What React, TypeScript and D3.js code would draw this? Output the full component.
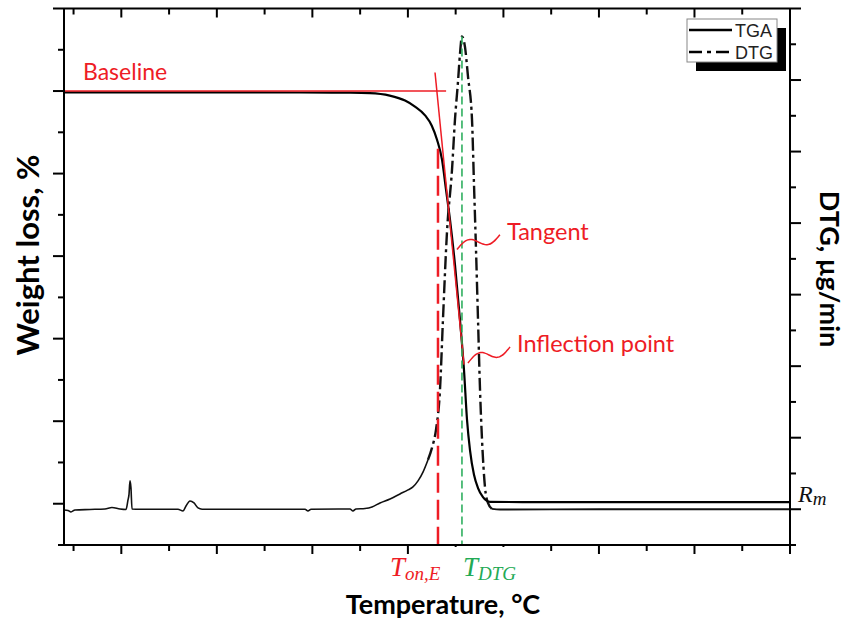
import React from 'react';
import * as d3 from 'd3';

// ---------- data ----------
const tgaTemp = [40, 120, 200, 287, 340, 360, 381, 397, 407, 418, 425, 430.5, 435.7, 439.9, 444.1, 449.3, 454.5, 458.7, 461.9, 465, 469.2, 473.4, 478.6, 486, 520, 600, 700, 800];
const tgaWeight = [99.7, 99.7, 99.7, 99.65, 99.6, 99.5, 98.9, 97.7, 96.3, 94.1, 91.6, 88.2, 83.4, 76.1, 68.8, 57.9, 44.6, 32.5, 20.3, 13.0, 7.0, 3.8, 1.6, 0.45, 0.4, 0.4, 0.4, 0.4];

const dtgTemp = [40, 44.2, 47.3, 51.5, 67.2, 82.9, 90.2, 98.6, 104.9, 107, 108, 109.1, 110.1, 111.2, 119.6, 140.5, 159.3, 164.6, 167.7, 171.9, 176.1, 180.3, 184.5, 234.7, 292.3, 295.4, 298.6, 339.4, 342.5, 345.7, 355.1, 362.4, 370.8, 381.3, 391.7, 400.1, 405.3, 410.6, 415.8, 421, 425.2, 429.4, 433.6, 436.7, 440.9, 446.2, 449.3, 452.4, 454.5, 456.6, 459.8, 462.9, 467.1, 469.2, 471.3, 473.4, 475.5, 477.6, 480.7, 483.8, 488, 496.4, 601, 705.8, 800];
const dtgRate = [-0.1, -0.17, -0.38, -0.1, -0.03, 0.04, 0.25, 0.04, -0.03, 1.3, 2.0, 3.96, 3.0, 0.04, 0, 0, 0, -0.24, 0.46, 1.16, 0.88, 0.18, 0, 0, 0, -0.24, 0, 0.04, -0.24, 0.04, 0.11, 0.32, 0.88, 1.44, 2.14, 2.7, 3.12, 3.96, 5.2, 6.9, 8.58, 11.1, 16.7, 26.5, 38.7, 47.5, 54.5, 59.7, 63.6, 66.1, 64.6, 60.5, 54.5, 45.4, 36.3, 26.5, 16.7, 9.7, 3.1, 0.88, 0.04, -0.04, 0, 0, 0];

const xTicks = d3.range(50, 801, 50);
const leftTicks = d3.range(-10, 121, 10);
const rightTicks = d3.range(-5, 71, 5);

// annotations (data units)
const baselineWeight = 100;
const baselineRange = [40, 440];
const tangentTemp = [428.4, 458.7];
const tangentWeight = [104.5, 33.7];
const onsetTemp = 431.5;
const onsetTopWeight = 86;
const dtgPeakTemp = 456.6;
const dtgPeakRate = 66.1;
const residueWeight = 0.4;
const tangentNote = { from: [451.4, 61.6], to: [496.4, 65.2], text: [503.7, 64.0] };
const inflectNote = { from: [462.9, 34.1], to: [506.9, 38.0], text: [514.2, 36.8] };
const baselineText = [59.9, 102.6];

const RED = '#ee1c25';
const GREEN = '#22aa55';

export default function App() {
  const x = d3.scaleLinear().domain([40, 800]).range([64, 790]);
  const yL = d3.scaleLinear().domain([-10, 120]).range([545, 8.5]);
  const yR = d3.scaleLinear().domain([-5, 70]).range([545, 8.5]);

  const tgaData = tgaTemp.map((t, i) => [t, tgaWeight[i]] as [number, number]);
  const dtgData = dtgTemp.map((t, i) => [t, dtgRate[i]] as [number, number]);

  const tgaLine = d3.line<[number, number]>().x(d => x(d[0])).y(d => yL(d[1])).curve(d3.curveMonotoneX);
  const dtgLine = d3.line<[number, number]>().x(d => x(d[0])).y(d => yR(d[1])).curve(d3.curveMonotoneX);

  const dtgSolidA = dtgData.filter(d => d[0] <= 421);
  const dtgDash = dtgData.filter(d => d[0] >= 421 && d[0] <= 488);
  const dtgSolidB = dtgData.filter(d => d[0] >= 488);

  const squiggle = (from: number[], to: number[]) => {
    const x0 = x(from[0]), y0 = yL(from[1]), x1 = x(to[0]), y1 = yL(to[1]);
    const pts: [number, number][] = d3.range(0, 1.0001, 0.05).map(t => [x0 + (x1 - x0) * t, y0 + (y1 - y0) * t - 6 * Math.sin(2 * Math.PI * t)]);
    return d3.line().curve(d3.curveBasis)(pts) as string;
  };

  const left = 64, right = 790, top = 8.5, bottom = 545;

  return (
    <svg width={854} height={619} style={{ position: 'absolute', left: 0, top: 0, background: '#fff' }}>
      {/* DTG */}
      <path d={dtgLine(dtgSolidA) as string} fill="none" stroke="#111" strokeWidth={1.6} />
      <path d={dtgLine(dtgDash) as string} fill="none" stroke="#111" strokeWidth={2.4} strokeDasharray="13,4,3,4" />
      <path d={dtgLine(dtgSolidB) as string} fill="none" stroke="#111" strokeWidth={1.8} />
      {/* TGA */}
      <path d={tgaLine(tgaData) as string} fill="none" stroke="#000" strokeWidth={2.2} />

      {/* annotations */}
      <line x1={x(baselineRange[0])} x2={x(baselineRange[1])} y1={yL(baselineWeight)} y2={yL(baselineWeight)} stroke={RED} strokeWidth={1.6} />
      <line x1={x(tangentTemp[0])} x2={x(tangentTemp[1])} y1={yL(tangentWeight[0])} y2={yL(tangentWeight[1])} stroke={RED} strokeWidth={1.5} />
      <line x1={x(onsetTemp)} x2={x(onsetTemp)} y1={yL(onsetTopWeight)} y2={bottom} stroke={RED} strokeWidth={2.5} strokeDasharray="20,7" />
      <line x1={x(dtgPeakTemp)} x2={x(dtgPeakTemp)} y1={yR(dtgPeakRate)} y2={bottom} stroke={GREEN} strokeWidth={1.5} strokeDasharray="8,4" />
      <path d={squiggle(tangentNote.from, tangentNote.to)} fill="none" stroke={RED} strokeWidth={1.5} />
      <path d={squiggle(inflectNote.from, inflectNote.to)} fill="none" stroke={RED} strokeWidth={1.5} />
      <text x={x(tangentNote.text[0])} y={yL(tangentNote.text[1])} fill={RED} fontFamily="Lato" fontSize={23.5}>Tangent</text>
      <text x={x(inflectNote.text[0])} y={yL(inflectNote.text[1])} fill={RED} fontFamily="Lato" fontSize={23.5}>Inflection point</text>
      <text x={x(baselineText[0])} y={yL(baselineText[1])} fill={RED} fontFamily="Lato" fontSize={23}>Baseline</text>

      {/* legend */}
      <rect x={696} y={28} width={90} height={43} fill="#000" />
      <rect x={687} y={19} width={90} height={43} fill="#fff" stroke="#888" strokeWidth={1} />
      <line x1={689} x2={732} y1={30} y2={30} stroke="#000" strokeWidth={2.5} />
      <text x={735} y={37} fontFamily="Liberation Sans" fontSize={18} fill="#222">TGA</text>
      <line x1={689} x2={732} y1={52} y2={52} stroke="#000" strokeWidth={2.5} strokeDasharray="13,5,4,5" />
      <text x={735} y={59} fontFamily="Liberation Sans" fontSize={18} fill="#222">DTG</text>

      {/* axes frame */}
      <g stroke="#000" strokeWidth={2}>
        <line x1={left} x2={right} y1={bottom} y2={bottom} />
        <line x1={left} x2={right} y1={top} y2={top} />
        <line x1={left} x2={left} y1={top} y2={bottom} />
        <line x1={right} x2={right} y1={top} y2={bottom} />
        {xTicks.map(t => {
          const major = t % 100 === 0;
          return (
            <g key={'x' + t}>
              <line x1={x(t)} x2={x(t)} y1={bottom} y2={bottom + (major ? 9 : 6)} />
              <line x1={x(t)} x2={x(t)} y1={top} y2={top + (major ? 9 : 6)} />
            </g>
          );
        })}
        {leftTicks.map(t => {
          const major = t % 20 === 0;
          return <line key={'l' + t} x1={left} x2={left - (major ? 11 : 6)} y1={yL(t)} y2={yL(t)} />;
        })}
        {rightTicks.map(t => {
          const major = t % 10 === 0;
          return <line key={'r' + t} x1={right} x2={right + (major ? 11 : 6)} y1={yR(t)} y2={yR(t)} />;
        })}
      </g>

      {/* white box behind T_DTG label */}
      <rect x={446} y={547} width={68} height={38} fill="#fff" />

      {/* T labels */}
      <text x={x(onsetTemp) - 48} y={576} fill={RED} fontFamily="Liberation Serif" fontStyle="italic" fontSize={27}>
        T<tspan fontSize={19} dy={4}>on,E</tspan>
      </text>
      <text x={x(dtgPeakTemp) + 1} y={576} fill={GREEN} fontFamily="Liberation Serif" fontStyle="italic" fontSize={27}>
        T<tspan fontSize={19} dy={4}>DTG</tspan>
      </text>
      <text x={798} y={yL(residueWeight)} fill="#111" fontFamily="Liberation Serif" fontStyle="italic" fontSize={24}>
        R<tspan fontSize={19} dy={3}>m</tspan>
      </text>

      {/* axis titles */}
      <text x={443} y={614} textAnchor="middle" fontFamily="Lato" fontWeight="bold" fontSize={27}>Temperature, °C</text>
      <text transform="translate(39,255) rotate(-90)" textAnchor="middle" fontFamily="Lato" fontWeight="bold" fontSize={31}>Weight loss, %</text>
      <text transform="translate(820,269) rotate(90)" textAnchor="middle" fontFamily="Lato" fontWeight="bold" fontSize={27}>DTG, µg/min</text>
    </svg>
  );
}
